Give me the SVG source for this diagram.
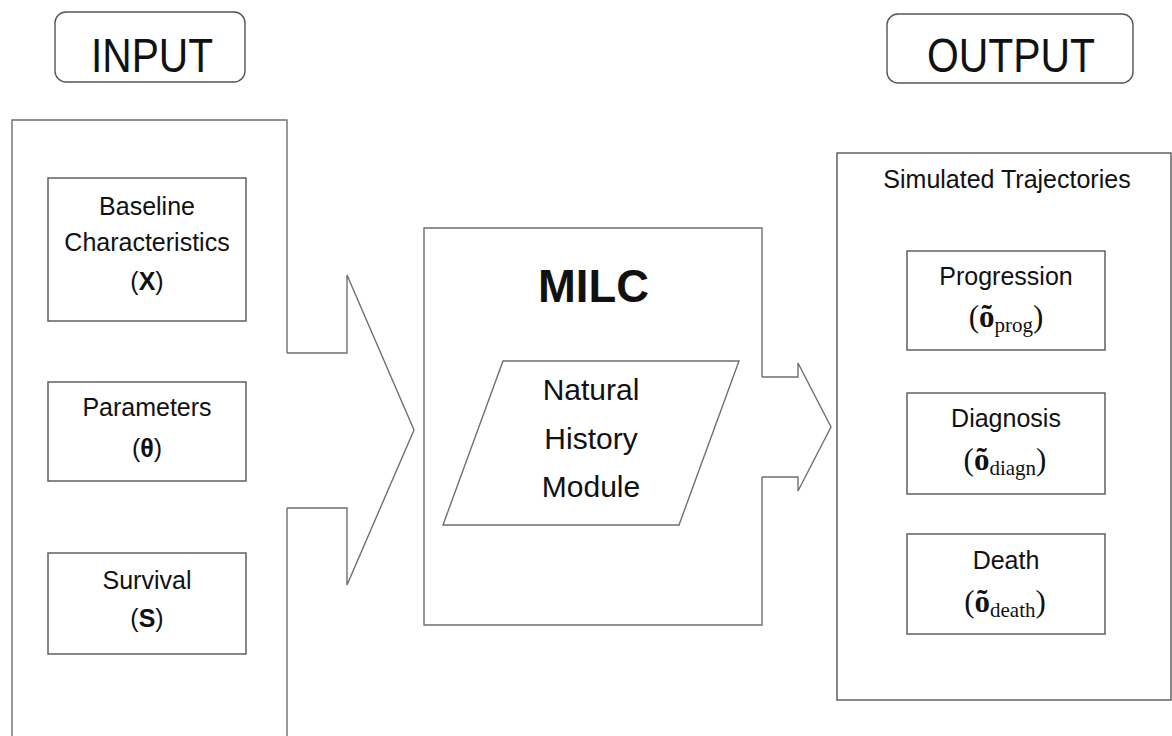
<svg xmlns="http://www.w3.org/2000/svg" width="1172" height="736" viewBox="0 0 1172 736">
<style>
  .bg{fill:#ffffff}
  .box{fill:#ffffff;stroke:#555555;stroke-width:1.4}
  .shape{fill:none;stroke:#6f6f6f;stroke-width:1.4;stroke-linejoin:miter}
  .lbl{font-family:"Liberation Sans",Arial,sans-serif;font-size:25px;fill:#111111;text-anchor:middle}
  .big{font-family:"Liberation Sans",Arial,sans-serif;font-size:48px;fill:#111111;text-anchor:middle}
  .mod{font-family:"Liberation Sans",Arial,sans-serif;font-size:30px;fill:#111111;text-anchor:middle}
  .milc{font-family:"Liberation Sans",Arial,sans-serif;font-size:47px;font-weight:bold;fill:#111111;text-anchor:middle}
  .math{font-family:"Liberation Serif","Times New Roman",serif;font-size:31px;fill:#111111;text-anchor:middle}
  .b{font-weight:bold}
  .sub{font-size:21px}
</style>
<rect class="bg" x="0" y="0" width="1172" height="736"/>

<g id="input-label">
  <rect class="box" x="55" y="12" width="190" height="70" rx="11"/>
  <text class="big" x="152" y="72" textLength="122" lengthAdjust="spacingAndGlyphs">INPUT</text>
</g>

<g id="output-label">
  <rect class="box" x="887" y="14" width="246" height="69" rx="11"/>
  <text class="big" x="1011" y="72" textLength="168" lengthAdjust="spacingAndGlyphs">OUTPUT</text>
</g>

<g id="input-panel">
  <path class="shape" d="M12 740 L12 120 L287 120 L287 353 M287 508 L287 740"/>
</g>

<g id="baseline">
  <rect class="box" x="48" y="178" width="198" height="143"/>
  <text class="lbl" x="147" y="215">Baseline</text>
  <text class="lbl" x="147" y="251">Characteristics</text>
  <text class="lbl" x="147" y="290" font-size="26">(<tspan class="b">X</tspan>)</text>
</g>

<g id="parameters">
  <rect class="box" x="48" y="382" width="198" height="99"/>
  <text class="lbl" x="147" y="416">Parameters</text>
  <text class="lbl" x="147" y="457" font-size="26">(<tspan class="b">θ</tspan>)</text>
</g>

<g id="survival">
  <rect class="box" x="48" y="553" width="198" height="101"/>
  <text class="lbl" x="147" y="589">Survival</text>
  <text class="lbl" x="147" y="627" font-size="26">(<tspan class="b">S</tspan>)</text>
</g>

<g id="milc">
  <path class="shape" d="M762 377 L762 228 L424 228 L424 625 L762 625 L762 477"/>
  <text class="milc" x="593.5" y="302" textLength="111" lengthAdjust="spacingAndGlyphs">MILC</text>
</g>

<g id="natural-history-module">
  <polygon class="shape" points="503,361 739,361 679,525 443,525"/>
  <text class="mod" x="591" y="400">Natural</text>
  <text class="mod" x="591" y="449">History</text>
  <text class="mod" x="591" y="497">Module</text>
</g>

<g id="simulated-trajectories">
  <rect class="box" x="837" y="153" width="334" height="547"/>
  <text class="lbl" x="1007" y="188">Simulated Trajectories</text>
</g>

<g id="progression">
  <rect class="box" x="907" y="251" width="198" height="99"/>
  <text class="lbl" x="1006" y="285">Progression</text>
  <text class="math" x="1006" y="327">(<tspan class="b">õ</tspan><tspan class="sub" dy="5">prog</tspan><tspan dy="-5">)</tspan></text>
</g>

<g id="diagnosis">
  <rect class="box" x="907" y="393" width="198" height="101"/>
  <text class="lbl" x="1006" y="427">Diagnosis</text>
  <text class="math" x="1005" y="470">(<tspan class="b">õ</tspan><tspan class="sub" dy="5">diagn</tspan><tspan dy="-5">)</tspan></text>
</g>

<g id="death">
  <rect class="box" x="907" y="534" width="198" height="100"/>
  <text class="lbl" x="1006" y="569">Death</text>
  <text class="math" x="1005" y="612">(<tspan class="b">õ</tspan><tspan class="sub" dy="5">death</tspan><tspan dy="-5">)</tspan></text>
</g>

<g id="connectors">
  <path class="shape" d="M287 353 L347 353 L347 275 L414 430 L347 585 L347 508 L287 508"/>
  <path class="shape" d="M762 377 L798 377 L798 363 L831 427 L798 491 L798 477 L762 477"/>
</g>
</svg>
